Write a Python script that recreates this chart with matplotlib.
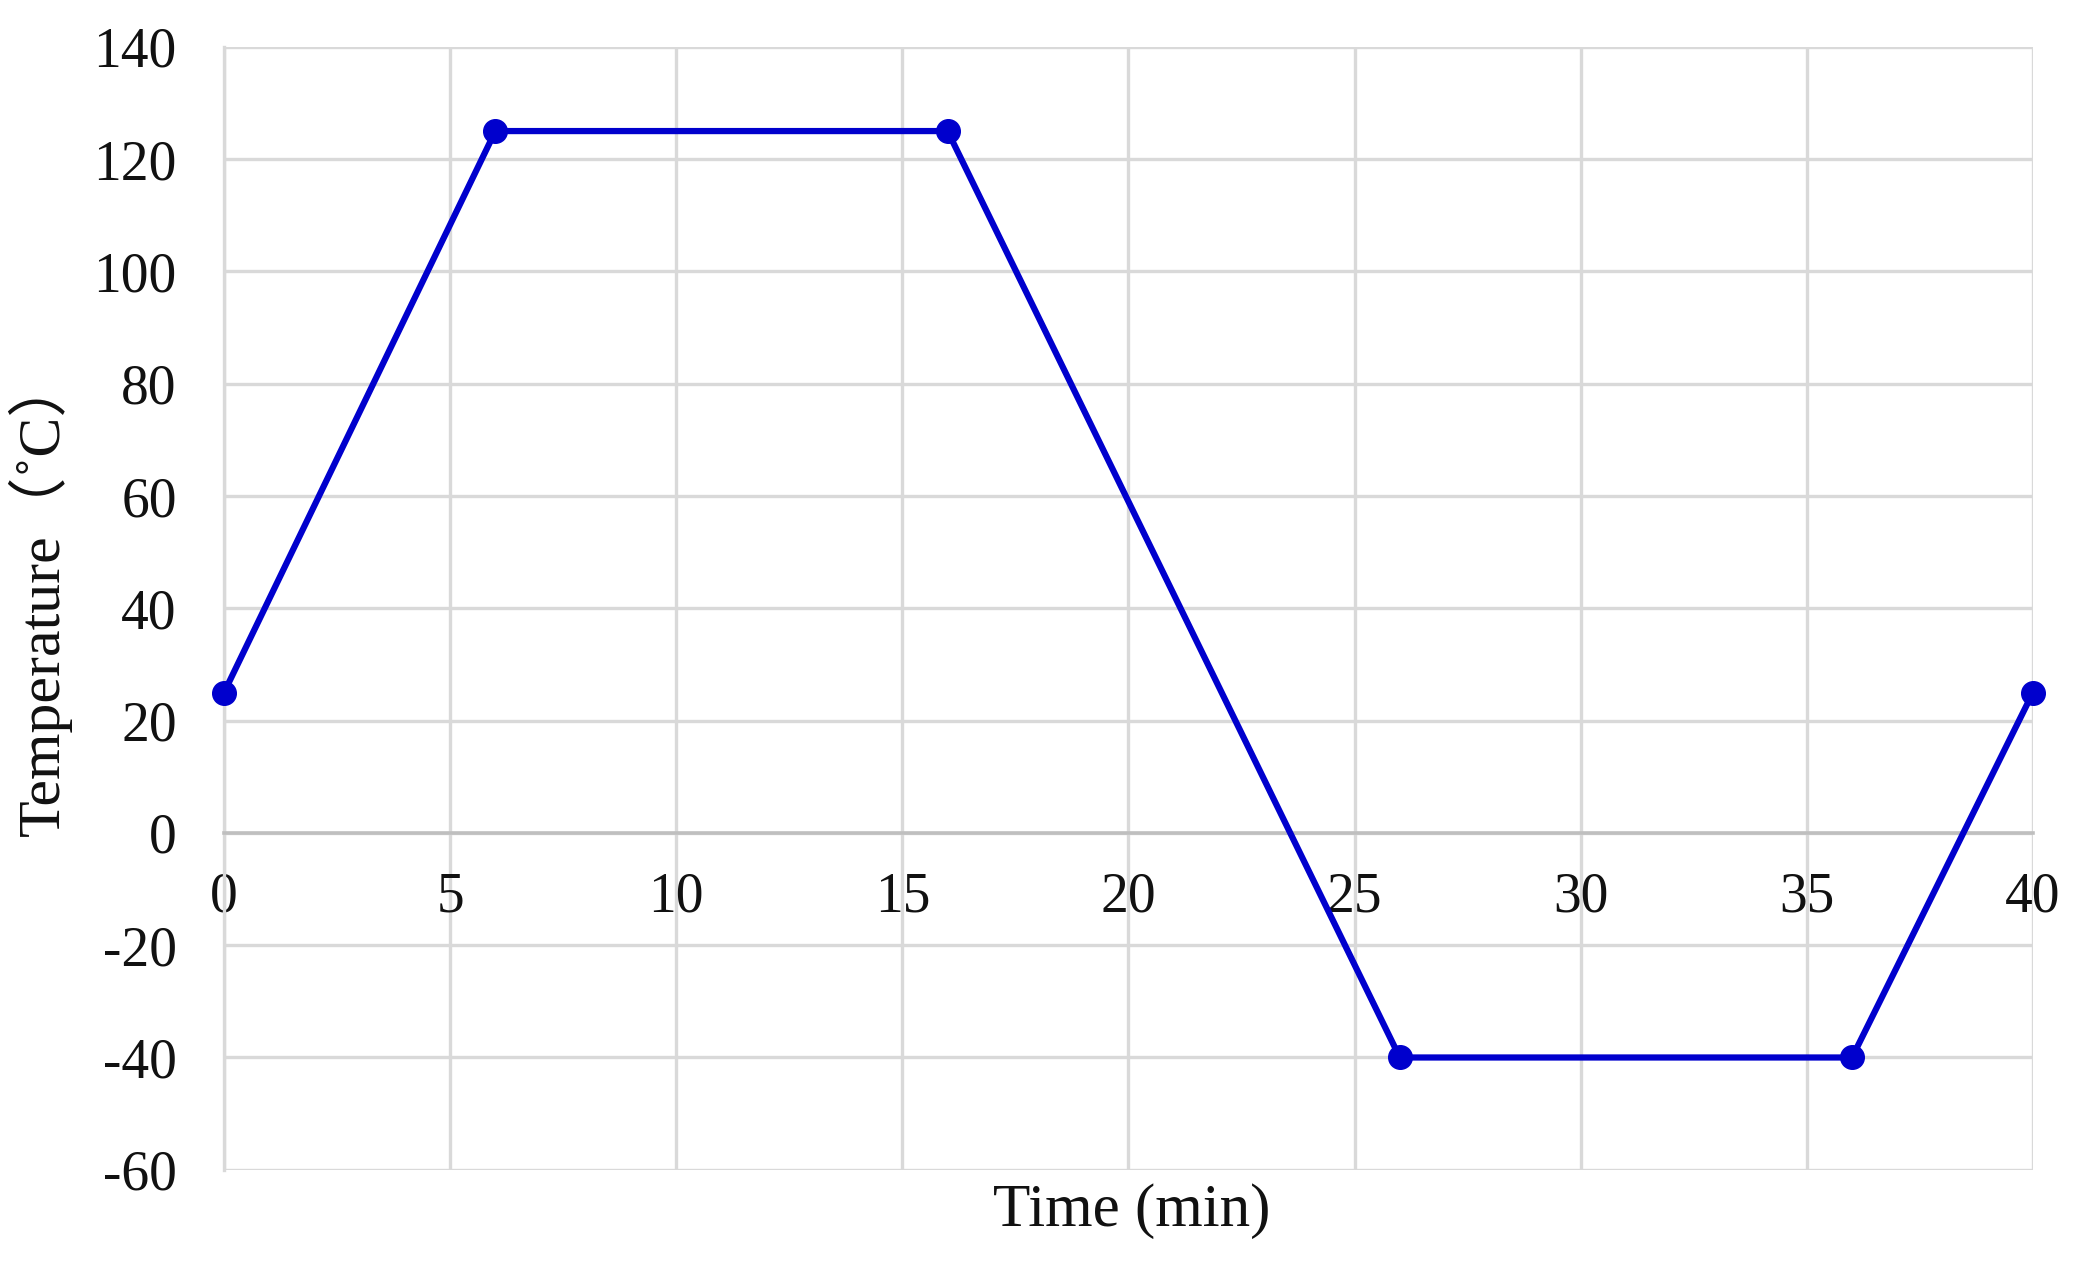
import matplotlib
matplotlib.use("Agg")
import matplotlib.pyplot as plt

# temperature cycle profile
time_min = [0, 6, 16, 26, 36, 40]
temp_c = [25, 125, 125, -40, -40, 25]
x_ticks = [0, 5, 10, 15, 20, 25, 30, 35, 40]
y_ticks = [-60, -40, -20, 0, 20, 40, 60, 80, 100, 120, 140]

plt.rcParams['font.family'] = ['Liberation Serif', 'Noto Sans CJK JP', 'DejaVu Sans']

fig = plt.figure(figsize=(20.84, 12.66), dpi=100)
ax = fig.add_axes([0.1075, 0.076, 0.868, 0.887])

ax.set_xlim(0, 40)
ax.set_ylim(-60, 140)
ax.set_xticks(x_ticks)
ax.set_yticks(y_ticks)
ax.grid(True, color='#d9d9d9', linewidth=2.4)
ax.set_axisbelow(True)

for s in ['top', 'right']:
    ax.spines[s].set_visible(False)
ax.spines['left'].set_color('#d9d9d9')
ax.spines['left'].set_linewidth(2.4)
ax.spines['bottom'].set_position(('data', 0))
ax.spines['bottom'].set_color('#bfbfbf')
ax.spines['bottom'].set_linewidth(2.6)

ax.tick_params(axis='both', length=0, labelsize=40, colors='#111111')
ax.tick_params(axis='x', pad=28)
ax.tick_params(axis='y', pad=34)
ax.set_yticklabels([str(v) for v in y_ticks])

ax.plot(time_min, temp_c, color='#0000cd', linewidth=4.5, marker='o',
        markersize=17, clip_on=False, zorder=5)

fig.text(0.543, 0.043, 'Time (min)', fontsize=44, ha='center', va='center', color='#111111')
fig.text(0.019, 0.53, 'Temperature（˚C）', fontsize=43, rotation=90,
         ha='center', va='center', color='#111111')

fig.savefig('out.png', dpi=100, facecolor='white')
